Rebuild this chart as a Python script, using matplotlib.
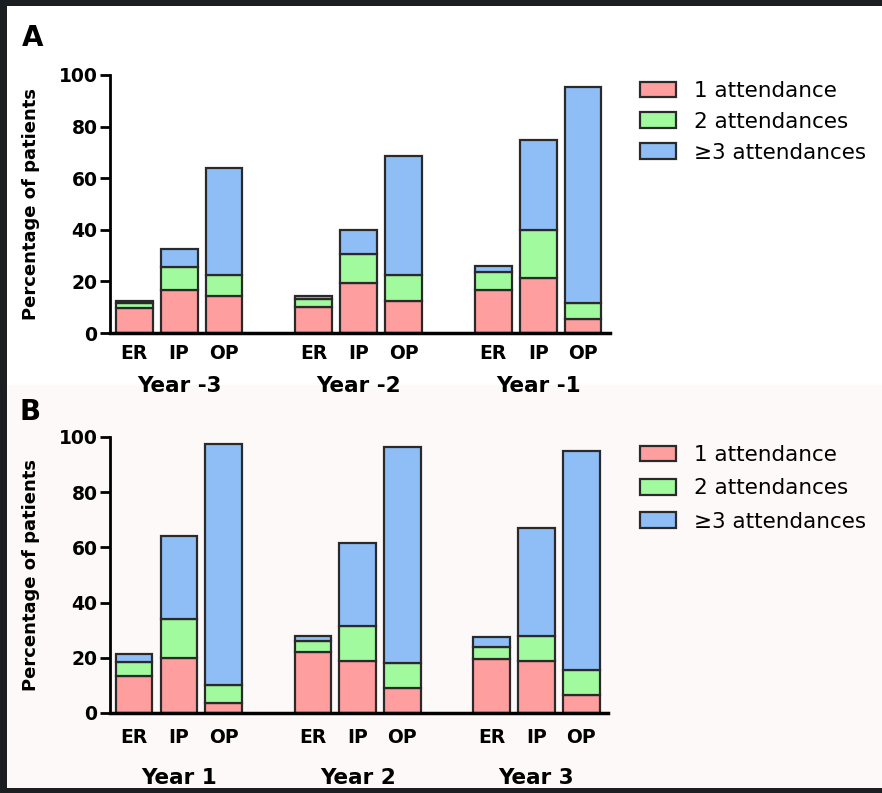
import matplotlib
matplotlib.use("Agg")
import matplotlib.pyplot as plt
from matplotlib.patches import Rectangle, Patch
import numpy as np

# bar data (percentage of patients)
categories = ["ER", "IP", "OP"]
years_a = ["Year -3", "Year -2", "Year -1"]
years_b = ["Year 1", "Year 2", "Year 3"]
series_names = ["1 attendance", "2 attendances", "\u22653 attendances"]

# panel A: per year [ER, IP, OP]
a_one = [[9.5, 16.5, 14.5], [10, 19.5, 12.5], [16.5, 21.5, 5.5]]
a_two = [[2, 9, 8], [3, 11, 10], [7, 18.5, 6]]
a_three = [[1, 7, 41.5], [1.5, 9.5, 46], [2.5, 35, 84]]

# panel B
b_one = [[13.5, 20, 3.5], [22, 19, 9], [19.5, 19, 6.5]]
b_two = [[5, 14, 6.5], [4, 12.5, 9], [4.5, 9, 9]]
b_three = [[3, 30, 87.5], [2, 30, 78.5], [3.5, 39, 79.5]]

colors = ["#ff9e9e", "#a2fa9e", "#8fbdf6"]
W, H = 882, 793

fig = plt.figure(figsize=(W / 100, H / 100), dpi=100)
fig.patch.set_facecolor("#1c1f21")
# page area (dark frame on left/top/bottom)
fig.patches.append(Rectangle((7 / W, 1 - 788 / H), 1, (788 - 6) / H,
                             transform=fig.transFigure, facecolor="white",
                             edgecolor="none", zorder=-2))
fig.patches.append(Rectangle((7 / W, 1 - 788 / H), 1, (788 - 385) / H,
                             transform=fig.transFigure, facecolor="#fdf9f8",
                             edgecolor="none", zorder=-1))


def draw_panel(ax, years, one, two, three, ylab_x, ticklab_pad, year_y):
    pos = []
    for g in range(3):
        pos.append(np.arange(3) + 4 * g)
    pos = np.concatenate(pos)
    one = np.array(one).ravel()
    two = np.array(two).ravel()
    three = np.array(three).ravel()
    kw = dict(width=0.82, edgecolor="#2a2a2a", linewidth=1.6)
    ax.bar(pos, one, color=colors[0], label=series_names[0], **kw)
    ax.bar(pos, two, bottom=one, color=colors[1], label=series_names[1], **kw)
    ax.bar(pos, three, bottom=one + two, color=colors[2], label=series_names[2], **kw)

    ax.set_xlim(-0.54, 10.6)
    ax.set_ylim(0, 100)
    ax.set_yticks([0, 20, 40, 60, 80, 100])
    ax.set_xticks(pos)
    ax.set_xticklabels(categories * 3, fontsize=13.5, fontweight="bold")
    ax.tick_params(axis="x", length=0, pad=ticklab_pad)
    ax.tick_params(axis="y", length=7, width=2, pad=2, direction="out",
                   labelsize=13.5)
    for t in ax.get_yticklabels():
        t.set_fontweight("bold")
    ax.spines["top"].set_visible(False)
    ax.spines["right"].set_visible(False)
    ax.spines["left"].set_linewidth(2)
    ax.spines["bottom"].set_linewidth(2.5)
    ax.set_facecolor("none")
    ax.set_ylabel("Percentage of patients", fontsize=13, fontweight="bold")
    ax.yaxis.set_label_coords(ylab_x, 0.5)
    for g, yr in enumerate(years):
        ax.text(1 + 4 * g, year_y, yr, transform=ax.get_xaxis_transform(),
                ha="center", va="center", fontsize=15.5, fontweight="bold")
    handles = [Patch(facecolor=c, edgecolor="#2a2a2a", linewidth=1.6) for c in colors]
    return handles


axA = fig.add_axes([110 / W, 1 - 333 / H, 500 / W, 258 / H])
hA = draw_panel(axA, years_a, a_one, a_two, a_three, -0.14, 8, -0.205)
axB = fig.add_axes([110 / W, 1 - 713 / H, 498 / W, 276 / H])
hB = draw_panel(axB, years_b, b_one, b_two, b_three, -0.14, 11, -0.235)

leg_kw = dict(loc="upper left", frameon=False, fontsize=15.5,
              handlelength=1.65, handleheight=0.75, handletextpad=0.85,
              labelspacing=0.5, borderpad=0, borderaxespad=0)
axA.legend(hA, series_names, bbox_to_anchor=(640 / W, 1 - 81 / H),
           bbox_transform=fig.transFigure, **leg_kw)
leg_kw["labelspacing"] = 0.62
axB.legend(hB, series_names, bbox_to_anchor=(640 / W, 1 - 445 / H),
           bbox_transform=fig.transFigure, **leg_kw)

fig.text(22 / W, 1 - 38 / H, "A", fontsize=20, fontweight="bold",
         ha="left", va="center")
fig.text(20 / W, 1 - 412 / H, "B", fontsize=20, fontweight="bold",
         ha="left", va="center")

fig.savefig("out.png", dpi=100, facecolor=fig.get_facecolor())
